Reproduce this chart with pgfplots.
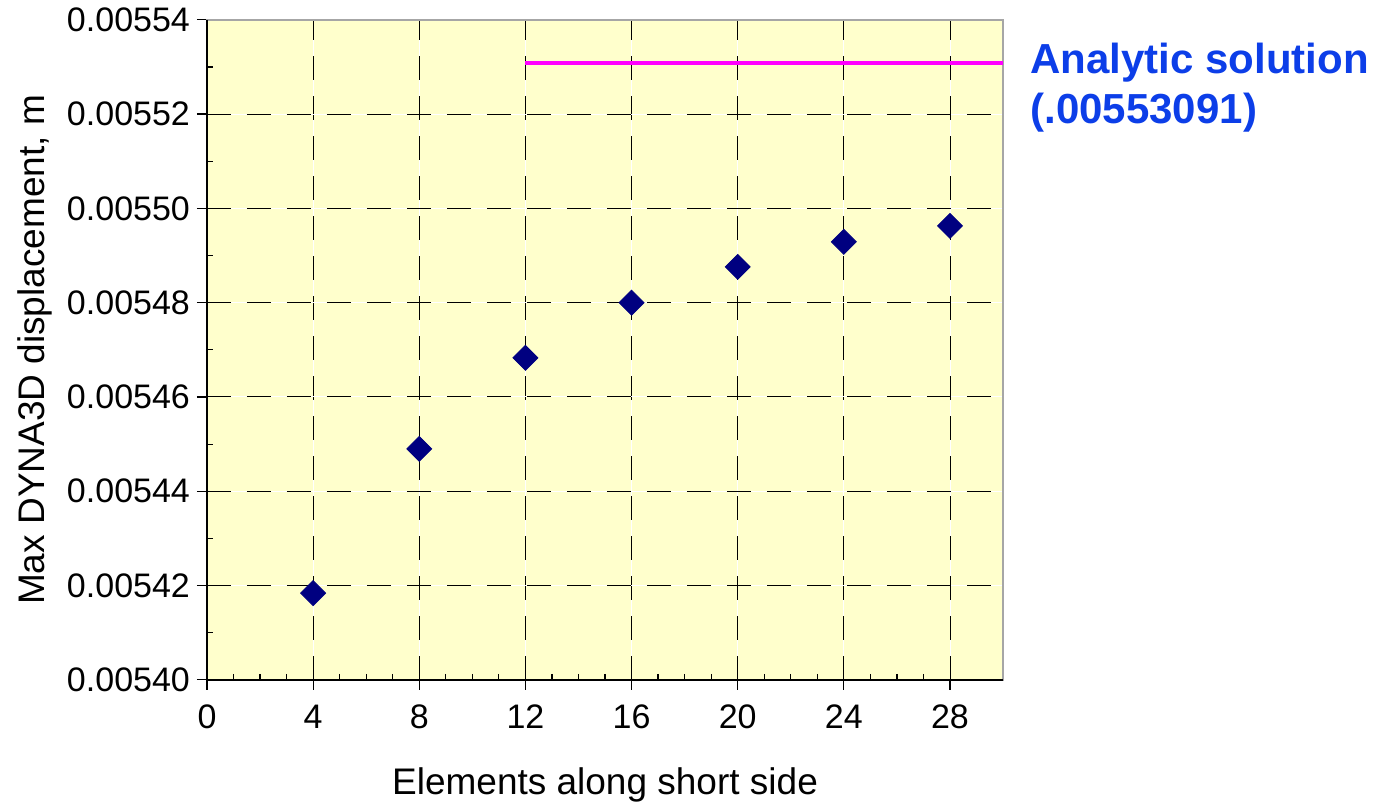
\documentclass[border=0pt]{standalone}
\usepackage{pgfplots}
\pgfplotsset{compat=1.18}
\usepackage{fontspec}
\setmainfont{Liberation Sans}
\definecolor{bgyellow}{RGB}{255,255,204}
\definecolor{navy}{RGB}{0,0,128}
\definecolor{annblue}{RGB}{12,62,232}
\definecolor{puremagenta}{RGB}{255,0,255}
\begin{document}
\begin{tikzpicture}
\begin{axis}[
  scale only axis,
  width=398pt, height=330pt,
  xmin=0, xmax=30, ymin=0.00540, ymax=0.00554,
  xtick={0,4,...,28}, minor x tick num=3,
  ytick={0.00540,0.00542,...,0.00554}, minor y tick num=1,
  xtick pos=left, ytick pos=left,
  tick align=outside,
  major tick length=5pt, minor tick length=-3pt,
  every tick/.style={black, line width=0.6pt},
  scaled y ticks=false,
  yticklabel style={/pgf/number format/fixed, /pgf/number format/fixed zerofill, /pgf/number format/precision=5},
  /pgf/number format/assume math mode=true,
  tick label style={font=\fontsize{17}{20}\selectfont},
  xticklabel style={yshift=-4pt},
  label style={font=\fontsize{18.5}{22}\selectfont},
  xlabel={Elements along short side},
  ylabel={Max DYNA3D displacement, m},
  xlabel style={at={(rel axis cs:0.5,-0.159)}, anchor=center},
  ylabel style={at={(rel axis cs:-0.216,0.5)}, anchor=center},
  axis background/.style={fill=bgyellow},
  axis line style={draw=gray!70, line width=1pt},
  grid=major,
  major grid style={black, line width=0.5pt, dash pattern=on 12pt off 8pt, preaction={draw=white, solid, line width=0.5pt}},
  clip=false,
]
\addplot[only marks, mark=square*, mark size=4.4pt, mark options={rotate=45, fill=navy, draw=navy}, color=navy]
  coordinates {(4,0.0054184) (8,0.0054490) (12,0.0054683) (16,0.0054800) (20,0.0054876) (24,0.0054929) (28,0.0054963)};
\addplot[puremagenta, line width=2pt] coordinates {(12,0.00553091) (30,0.00553091)};
\draw[black, line width=1pt] (rel axis cs:0,1) -- (rel axis cs:0,0) -- (rel axis cs:1,0);
\node[anchor=north west, inner sep=0pt, align=left, text=annblue, font=\fontsize{21}{25}\selectfont\bfseries] at (rel axis cs:1.034,0.966) {Analytic solution\\(.00553091)};
\coordinate (bbsw) at (rel axis cs:-0.260,-0.189);
\coordinate (bbne) at (rel axis cs:1.476,1.030);
\end{axis}
\pgfresetboundingbox
\useasboundingbox (bbsw) rectangle (bbne);
\end{tikzpicture}
\end{document}
